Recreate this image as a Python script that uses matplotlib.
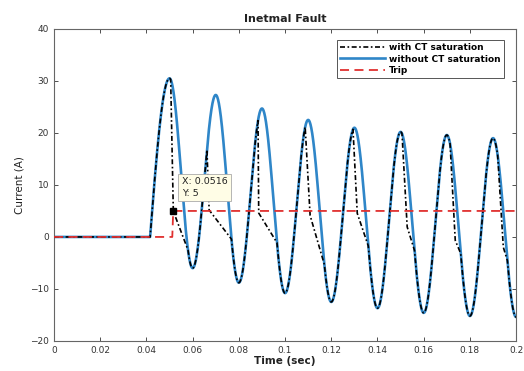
import numpy as np
import matplotlib
matplotlib.use("Agg")
import matplotlib.pyplot as plt

# ---- data ----
# fault inception and peaks / troughs of the primary (unsaturated) current
fault_start = 0.0416
ext_t = [0.0416, 0.050, 0.060, 0.070, 0.080, 0.090, 0.100, 0.110, 0.120,
         0.130, 0.140, 0.150, 0.160, 0.170, 0.180, 0.190, 0.200]
ext_v = [0.0, 30.5, -6.0, 27.3, -8.8, 24.7, -10.8, 22.5, -12.5,
         21.0, -13.7, 20.2, -14.6, 19.6, -15.2, 19.0, -15.4]

# CT saturation: per cycle the secondary leaves the primary, drops, then rejoins
sat_leave_t = [0.0505, 0.0662, 0.0883, 0.1087, 0.1294, 0.1506, 0.1714, 0.1920]
sat_drop_t = [0.0516, 0.0671, 0.0886, 0.1108, 0.1312, 0.1528, 0.1736, 0.1944]
sat_drop_v = [5.0, 5.2, 4.6, 4.2, 4.6, 2.0, -0.6, -1.9]
sat_merge_t = [0.0580, 0.0768, 0.0965, 0.1170, 0.1360, 0.1560, 0.1760, 0.1962]

trip_t = [0.0, 0.0512, 0.0516, 0.2]
trip_v = [0.0, 0.0, 5.0, 5.0]

tip_x, tip_y = 0.0516, 5

xticks = [0, 0.02, 0.04, 0.06, 0.08, 0.1, 0.12, 0.14, 0.16, 0.18, 0.2]
xtick_labels = ["0", "0.02", "0.04", "0.06", "0.08", "0.1", "0.12", "0.14", "0.16", "0.18", "0.2"]
yticks = [-20, -10, 0, 10, 20, 30, 40]


def primary(t):
    t = np.atleast_1d(np.asarray(t, dtype=float))
    out = np.zeros_like(t)
    for i in range(len(ext_t) - 1):
        t0, t1 = ext_t[i], ext_t[i + 1]
        v0, v1 = ext_v[i], ext_v[i + 1]
        m = (t >= t0) & (t <= t1)
        s = (t[m] - t0) / (t1 - t0)
        if i == 0:
            out[m] = v0 + (v1 - v0) * np.sin(np.pi / 2 * s)
        else:
            out[m] = v0 + (v1 - v0) * (1 - np.cos(np.pi * s)) / 2
    return out


t = np.unique(np.concatenate([np.linspace(0, 0.2, 4001), sat_leave_t,
                              sat_drop_t, sat_merge_t]))
blue = primary(t)
black = blue.copy()
for lt, dt, dv, mt in zip(sat_leave_t, sat_drop_t, sat_drop_v, sat_merge_t):
    bl = primary(lt)[0]
    bm = primary(mt)[0]
    m1 = (t >= lt) & (t <= dt)
    if dt > lt:
        black[m1] = bl + (dv - bl) * (t[m1] - lt) / (dt - lt)
    m2 = (t >= dt) & (t <= mt)
    black[m2] = dv + (bm - dv) * (t[m2] - dt) / (mt - dt)

fig = plt.figure(figsize=(5.24, 3.71), dpi=100)
ax = fig.add_axes([0.103, 0.081, 0.882, 0.841])

ax.plot(t, blue, color="#2f86c8", lw=1.9, label="without CT saturation", zorder=2)
ax.plot(t, black, color="black", lw=1.2, linestyle=(0, (3, 1.5, 1, 1.5)),
        label="with CT saturation", zorder=3)
ax.plot(trip_t, trip_v, color="#e0302f", lw=1.3, linestyle=(0, (5, 3)),
        label="Trip", zorder=4)

ax.plot([tip_x], [tip_y], marker="s", color="black", markersize=5, zorder=6)
ax.text(0.0553, 9.5, "X: %s\nY: %s" % (tip_x, tip_y), fontsize=6.8, va="center",
        ha="left", color="#222222", zorder=7, linespacing=1.3,
        bbox=dict(boxstyle="square,pad=0.35", fc="#fffde6", ec="#aaaaaa", lw=0.6))

ax.set_xlim(0, 0.2)
ax.set_ylim(-20, 40)
ax.set_xticks(xticks)
ax.set_xticklabels(xtick_labels)
ax.set_yticks(yticks)
ax.tick_params(direction="in", length=3, width=0.6, labelsize=6.5, colors="#333333",
               top=True, right=True)
for sp in ax.spines.values():
    sp.set_color("#666666")
    sp.set_linewidth(0.8)

ax.set_title("Inetmal Fault", fontsize=8, fontweight="bold", pad=5, color="#222222")
ax.set_xlabel("Time (sec)", fontsize=7.5, fontweight="bold", labelpad=1, color="#222222")
ax.set_ylabel("Current (A)", fontsize=7.5, labelpad=4, color="#222222")

h, l = ax.get_legend_handles_labels()
order = [1, 0, 2]
leg = ax.legend([h[i] for i in order], [l[i] for i in order], loc="upper right",
                fontsize=6.5, handlelength=5.0, borderpad=0.35, labelspacing=0.3,
                handletextpad=0.4, fancybox=False, framealpha=1,
                bbox_to_anchor=(0.983, 0.98))
leg.get_frame().set_edgecolor("#555555")
leg.get_frame().set_linewidth(0.7)
for txt in leg.get_texts():
    txt.set_fontweight("bold")

fig.savefig("out.png", dpi=100)
